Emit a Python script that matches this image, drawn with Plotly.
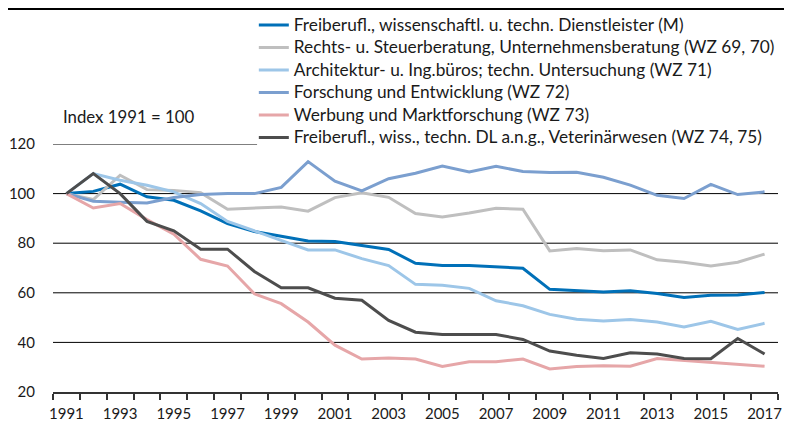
import plotly.graph_objects as go

years = list(range(1991, 2018))

series_names = [
    "Freiberufl., wissenschaftl. u. techn. Dienstleister (M)",
    "Rechts- u. Steuerberatung, Unternehmensberatung (WZ 69, 70)",
    "Architektur- u. Ing.büros; techn. Untersuchung (WZ 71)",
    "Forschung und Entwicklung (WZ 72)",
    "Werbung und Marktforschung (WZ 73)",
    "Freiberufl., wiss., techn. DL a.n.g., Veterinärwesen (WZ 74, 75)",
]

m_total = [100, 100.9, 103.8, 98.7, 97.3, 93.0, 87.9, 84.7, 82.8, 80.9, 80.7, 79.1, 77.5, 71.9,
           71.0, 71.0, 70.6, 69.9, 61.4, 60.9, 60.3, 60.8, 59.7, 58.1, 59.0, 59.1, 60.1]
wz_69_70 = [100, 97.6, 107.4, 101.6, 101.3, 100.4, 93.7, 94.2, 94.6, 92.9, 98.4, 100.3, 98.5, 92.0,
            90.6, 92.2, 94.1, 93.7, 76.9, 77.9, 77.0, 77.3, 73.3, 72.3, 70.8, 72.3, 75.6]
wz_71 = [100, 108.1, 105.4, 103.4, 100.7, 96.0, 88.8, 85.0, 81.2, 77.3, 77.3, 73.8, 71.0, 63.4,
         63.0, 61.8, 56.8, 54.8, 51.3, 49.3, 48.6, 49.2, 48.2, 46.2, 48.5, 45.2, 47.7]
wz_72 = [100, 96.9, 96.5, 96.2, 98.4, 99.6, 100.0, 100.0, 102.5, 112.9, 105.0, 101.1, 106.0, 108.2,
         111.1, 108.7, 111.0, 108.9, 108.5, 108.6, 106.6, 103.4, 99.3, 98.0, 103.7, 99.6, 100.7]
wz_73 = [100, 94.2, 96.0, 89.5, 83.6, 73.5, 70.8, 59.6, 55.6, 48.2, 38.9, 33.3, 33.7, 33.3,
         30.3, 32.2, 32.2, 33.3, 29.3, 30.3, 30.6, 30.4, 33.5, 32.7, 32.2, 31.2, 30.4]
wz_74_75 = [100, 108.1, 100.0, 88.8, 85.0, 77.6, 77.6, 68.6, 62.0, 62.0, 57.8, 57.0, 48.9, 44.1,
            43.2, 43.2, 43.2, 41.2, 36.5, 34.8, 33.5, 35.8, 35.3, 33.5, 33.4, 41.6, 35.3]

y_ticks = [20, 40, 60, 80, 100, 120]
x_tick_years = list(range(1991, 2018, 2))

colors = ["#0070b8", "#bfbfbf", "#9dc6e8", "#7b9fcf", "#e6a6a8", "#4d4d4d"]
all_values = [m_total, wz_69_70, wz_71, wz_72, wz_73, wz_74_75]

FONT = "Lato"
TEXT_SIZE = 17.3

fig = go.Figure()
for name, vals, col in zip(series_names, all_values, colors):
    fig.add_trace(go.Scatter(x=years, y=vals, mode="lines",
                             name=f"<span style='font-size:{TEXT_SIZE}px'>{name}</span>",
                             line=dict(color=col, width=3)))

shapes = []
for v in y_ticks[1:-1]:
    shapes.append(dict(type="line", xref="x", yref="y", x0=1990.5, x1=2017.5, y0=v, y1=v,
                       line=dict(color="black", width=1), layer="below"))
shapes.append(dict(type="line", xref="x", yref="y", x0=1990.5, x1=1998.1, y0=120, y1=120,
                   line=dict(color="black", width=1), layer="below"))
shapes.append(dict(type="line", xref="paper", yref="paper", x0=-0.066, x1=1.012, y0=1.545, y1=1.545,
                   line=dict(color="black", width=2.5)))

# page body has an 8px margin, so the figure is sized/offset to compensate
fig.update_layout(
    width=784, height=415,
    margin=dict(l=45, r=14, t=136, b=31, autoexpand=False),
    paper_bgcolor="white", plot_bgcolor="white",
    font=dict(family=FONT, size=15, color="#1a1a1a"),
    showlegend=True,
    legend=dict(x=0.277, y=1.545, xanchor="left", yanchor="top",
                bgcolor="rgba(0,0,0,0)", borderwidth=0,
                font=dict(family=FONT, size=15, color="#1a1a1a"),
                tracegroupgap=0),
    shapes=shapes,
    annotations=[dict(text="Index 1991 = 100", xref="paper", yref="paper", x=0.011, y=1.11,
                      xanchor="left", yanchor="middle", showarrow=False,
                      font=dict(family=FONT, size=16.8, color="#1a1a1a"))],
    xaxis=dict(range=[1990.5, 2017.5], tickmode="array", tickvals=x_tick_years,
               ticktext=[str(y) for y in x_tick_years], ticks="", showgrid=False,
               showline=True, linecolor="#333333", linewidth=2, zeroline=False,
               ticklabelstandoff=7, automargin=False,
               minor=dict(tick0=1990.5, dtick=1, ticks="outside", ticklen=6,
                          tickcolor="#333333", tickwidth=1.5, showgrid=False)),
    yaxis=dict(range=[20, 120], tickmode="array", tickvals=y_ticks, ticks="",
               showgrid=False, zeroline=False, showline=False, ticklabelstandoff=17,
               automargin=False),
)

fig.write_html("out.html")
